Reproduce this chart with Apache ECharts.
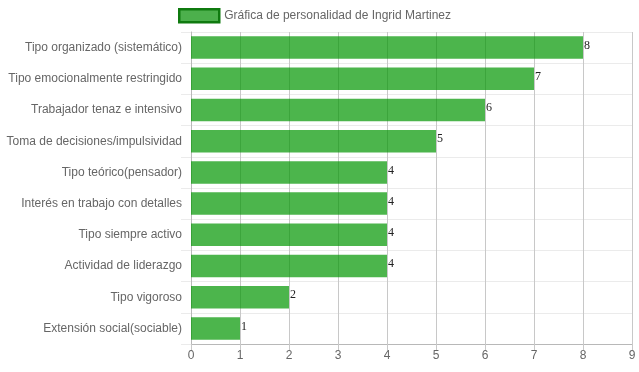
<!DOCTYPE html>
<html><head><meta charset="utf-8">
<script src="https://cdn.jsdelivr.net/npm/echarts@6/dist/echarts.min.js"></script>
<style>html,body{margin:0;padding:0;background:#fff}#c{width:639px;height:372px}</style>
</head><body><div id="c"></div>
<script>
const categories = [
  "Tipo organizado (sistemático)",
  "Tipo emocionalmente restringido",
  "Trabajador tenaz e intensivo",
  "Toma de decisiones/impulsividad",
  "Tipo teórico(pensador)",
  "Interés en trabajo con detalles",
  "Tipo siempre activo",
  "Actividad de liderazgo",
  "Tipo vigoroso",
  "Extensión social(sociable)"
];
const values = [8, 7, 6, 5, 4, 4, 4, 4, 2, 1];
const seriesName = "Gráfica de personalidad de Ingrid Martinez";
const xMin = 0, xMax = 9, xStep = 1;

const chart = echarts.init(document.getElementById('c'), null, {renderer: 'canvas'});
chart.setOption({
  animation: false,
  textStyle: {fontFamily: 'Arial, "Liberation Sans", sans-serif'},
  legend: {
    top: 8, left: 178, padding: 0,
    itemWidth: 40, itemHeight: 13, itemGap: 10,
    icon: 'rect',
    textStyle: {color: '#666', fontSize: 12, fontFamily: 'Arial, "Liberation Sans", sans-serif'},
    itemStyle: {color: '#4cb04c', borderColor: '#0f7a0f', borderWidth: 2.5},
    data: [seriesName]
  },
  grid: {left: 191, right: 7, top: 32, bottom: 28, containLabel: false},
  xAxis: {
    type: 'value', min: xMin, max: xMax, interval: xStep,
    axisLine: {show: true, lineStyle: {color: '#b8b8b8'}},
    axisTick: {show: true, length: 6, lineStyle: {color: '#c8c8c8'}},
    axisLabel: {color: '#666', fontSize: 12, margin: 6, fontFamily: 'Arial, "Liberation Sans", sans-serif'},
    splitLine: {show: true, lineStyle: {color: '#c8c8c8', width: 1}}
  },
  yAxis: {
    type: 'category', inverse: true, data: categories,
    axisLine: {show: true, lineStyle: {color: '#b8b8b8'}},
    axisTick: {show: true, length: 10, lineStyle: {color: '#ebebeb'}},
    axisLabel: {color: '#666', fontSize: 12, margin: 9, fontFamily: 'Arial, "Liberation Sans", sans-serif'},
    splitLine: {show: true, lineStyle: {color: '#ebebeb', width: 1}}
  },
  series: [{
    name: seriesName, type: 'bar', data: values,
    barCategoryGap: '28%',
    itemStyle: {color: 'rgba(0,150,0,0.7)'},
    label: {show: true, position: 'right', distance: 1, color: '#222', fontSize: 12,
            fontFamily: '"Liberation Serif", "Times New Roman", serif', offset: [0, -2]}
  }]
});
</script>
</body></html>
